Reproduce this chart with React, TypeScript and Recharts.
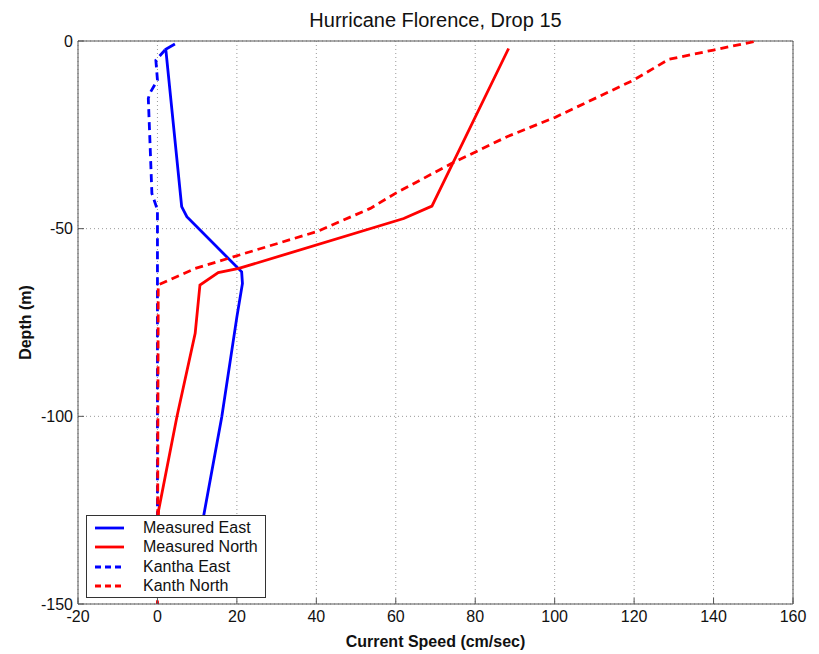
import { LineChart, Line, XAxis, YAxis, CartesianGrid, ReferenceLine } from 'recharts';

// speed (cm/sec) vs depth (m)
const measuredEast = [
  { speed: 4.4, depth: -0.8 },
  { speed: 2.1, depth: -2.2 },
  { speed: 6.1, depth: -44.1 },
  { speed: 7.4, depth: -46.8 },
  { speed: 21.2, depth: -61.5 },
  { speed: 21.4, depth: -64.6 },
  { speed: 20.0, depth: -73.5 },
  { speed: 16.2, depth: -100.1 },
  { speed: 11.6, depth: -126.7 },
  { speed: 11.0, depth: -130 },
];

const measuredNorth = [
  { speed: 88.4, depth: -2.0 },
  { speed: 69.1, depth: -44.0 },
  { speed: 62.0, depth: -47.3 },
  { speed: 20.5, depth: -60.6 },
  { speed: 15.3, depth: -61.7 },
  { speed: 10.7, depth: -65.0 },
  { speed: 9.5, depth: -77.9 },
  { speed: 4.9, depth: -100.1 },
  { speed: 0.3, depth: -125.0 },
  { speed: 0.1, depth: -130 },
];

const kanthaEast = [
  { speed: 1.9, depth: -2.4 },
  { speed: -0.4, depth: -5.1 },
  { speed: 0, depth: -10.4 },
  { speed: -1.9, depth: -13.9 },
  { speed: -2.3, depth: -15.3 },
  { speed: -1.9, depth: -26.4 },
  { speed: -1.4, depth: -40.6 },
  { speed: 0, depth: -45.0 },
  { speed: 0, depth: -64.6 },
  { speed: 0, depth: -150 },
];

const kanthaNorth = [
  { speed: 150.1, depth: -0.2 },
  { speed: 140.0, depth: -2.4 },
  { speed: 128.7, depth: -4.9 },
  { speed: 119.9, depth: -10.4 },
  { speed: 100.2, depth: -20.3 },
  { speed: 88.0, depth: -25.5 },
  { speed: 74.1, depth: -32.6 },
  { speed: 59.9, depth: -40.6 },
  { speed: 53.6, depth: -44.6 },
  { speed: 40.1, depth: -50.8 },
  { speed: 19.1, depth: -57.5 },
  { speed: 9.5, depth: -60.6 },
  { speed: 0.2, depth: -65.0 },
  { speed: 0, depth: -150 },
];

const xTicks = [-20, 0, 20, 40, 60, 80, 100, 120, 140, 160];
const yTicks = [-150, -100, -50, 0];

const seriesInfo = [
  { name: 'Measured East', color: '#0000ff', dash: undefined },
  { name: 'Measured North', color: '#ff0000', dash: undefined },
  { name: 'Kantha East', color: '#0000ff', dash: '6 4' },
  { name: 'Kanth North', color: '#ff0000', dash: '6 4' },
];

const font = '"Liberation Sans", Arial, sans-serif';
const frame = '#555';

// MATLAB-style legend box over the lower-left corner of the plot
const LegendBox = () => (
  <div
    style={{
      position: 'absolute',
      left: 86,
      top: 515,
      width: 178,
      height: 81,
      border: '1px solid #333',
      background: 'white',
      fontFamily: font,
      fontSize: 16,
      color: '#111',
    }}
  >
    {seriesInfo.map((s, i) => (
      <div key={s.name} style={{ display: 'flex', alignItems: 'center', height: 19.5, marginTop: i === 0 ? 2 : 0 }}>
        <svg width={40} height={10} style={{ marginLeft: 8, marginRight: 8 }}>
          <line x1={0} y1={5} x2={29} y2={5} stroke={s.color} strokeWidth={2.8} strokeDasharray={s.dash} />
        </svg>
        <span>{s.name}</span>
      </div>
    ))}
  </div>
);

export default function App() {
  return (
    <div style={{ position: 'absolute', left: 0, top: 0, width: 819, height: 654, background: 'white' }}>
      <div
        style={{
          position: 'absolute',
          left: 78,
          width: 715,
          top: 10,
          lineHeight: '20px',
          textAlign: 'center',
          fontFamily: font,
          fontSize: 20,
          color: '#111',
        }}
      >
        Hurricane Florence, Drop 15
      </div>
      <LineChart width={819} height={654} margin={{ top: 41, right: 26, bottom: 0, left: 0 }}>
        <CartesianGrid stroke="#999" strokeDasharray="1 3" horizontalValues={yTicks} verticalValues={xTicks} />
        <XAxis
          dataKey="speed"
          type="number"
          domain={[-20, 160]}
          ticks={xTicks}
          height={50}
          stroke={frame}
          tickSize={-6}
          tickMargin={13}
          tick={{ fill: '#111', fontSize: 16, fontFamily: font }}
          allowDataOverflow
          label={{
            value: 'Current Speed (cm/sec)',
            position: 'insideBottom',
            offset: 7,
            style: { fill: '#111', fontSize: 16, fontWeight: 'bold', fontFamily: font },
          }}
        />
        <YAxis
          dataKey="depth"
          type="number"
          domain={[-150, 0]}
          ticks={yTicks}
          width={78}
          stroke={frame}
          tickSize={-6}
          tickMargin={11}
          tick={{ fill: '#111', fontSize: 16, fontFamily: font }}
          label={{
            value: 'Depth (m)',
            angle: -90,
            position: 'insideLeft',
            offset: 25,
            style: { textAnchor: 'middle', fill: '#111', fontSize: 16, fontWeight: 'bold', fontFamily: font },
          }}
        />
        <ReferenceLine y={0} stroke={frame} />
        <ReferenceLine x={160} stroke={frame} />
        <Line data={measuredEast} dataKey="depth" name="Measured East" stroke="#0000ff" strokeWidth={2.8} dot={false} isAnimationActive={false} />
        <Line data={measuredNorth} dataKey="depth" name="Measured North" stroke="#ff0000" strokeWidth={2.8} dot={false} isAnimationActive={false} />
        <Line data={kanthaEast} dataKey="depth" name="Kantha East" stroke="#0000ff" strokeWidth={2.8} strokeDasharray="8 5" dot={false} isAnimationActive={false} />
        <Line data={kanthaNorth} dataKey="depth" name="Kanth North" stroke="#ff0000" strokeWidth={2.8} strokeDasharray="8 5" dot={false} isAnimationActive={false} />
      </LineChart>
      <LegendBox />
    </div>
  );
}
